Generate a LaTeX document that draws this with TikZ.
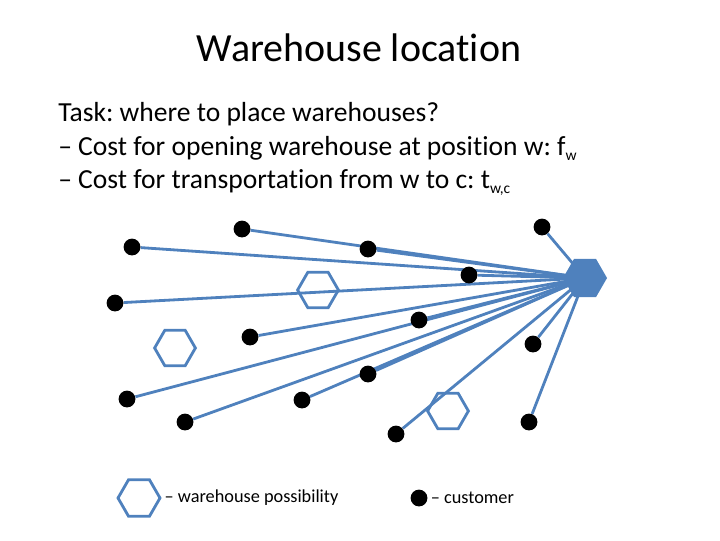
\documentclass[tikz,border=0pt]{standalone}
\usepackage{fontspec}
\setmainfont{Carlito}[Ligatures={TeX,NoCommon}]
\usetikzlibrary{positioning,shapes.geometric,backgrounds}
\definecolor{whblue}{HTML}{4F81BD}
\frenchspacing
\newcommand{\lowsub}[1]{\raisebox{-0.45ex}{\fontsize{11}{12}\selectfont #1}}

\begin{document}
\begin{tikzpicture}[
        x=0.025cm, y=-0.025cm,
        customer/.style={
                circle,
                fill=black,
                inner sep=0pt,
                minimum size=0.42cm
            },
        site/.style={
                regular polygon,
                regular polygon sides=6,
                draw=whblue,
                line width=2pt,
                inner sep=0pt,
                minimum size=1.02cm
            },
        chosen/.style={site, fill=whblue},
        link/.style={draw=whblue, line width=2pt},
        bodytext/.style={anchor=base west, inner sep=0pt, font=\fontsize{19.6}{23}\selectfont},
        legtext/.style={font=\fontsize{13}{15}\selectfont, inner sep=2pt}
    ]
    \useasboundingbox (0,0) rectangle (720,540);

    \node[anchor=base, font=\fontsize{28.4}{33}\selectfont] (title) at (359,61) {Warehouse location};
    \node[bodytext] (task) at (58,121) {Task: where to place warehouses?};
    \node[bodytext] (open) at (58,155) {-- Cost for opening warehouse at position w: f\lowsub{w}};
    \node[bodytext] (trans) at (58,188) {-- Cost for transportation from w to c: t\lowsub{w,c}};

    \node[chosen] (wh) at (585,278) {};
    \node[site] (s1) at (318,290) {};
    \node[site] (s2) at (175,348) {};
    \node[site] (s3) at (448,411) {};

    \node[customer] (c1) at (242,229) {};
    \node[customer] (c2) at (132,247) {};
    \node[customer] (c3) at (368,249) {};
    \node[customer] (c4) at (542,227) {};
    \node[customer] (c5) at (469,275) {};
    \node[customer] (c6) at (115,303) {};
    \node[customer] (c7) at (419,320) {};
    \node[customer] (c8) at (250,337) {};
    \node[customer] (c9) at (533,344) {};
    \node[customer] (c10) at (127,399) {};
    \node[customer] (c11) at (368,374) {};
    \node[customer] (c12) at (302,400) {};
    \node[customer] (c13) at (185,422) {};
    \node[customer] (c14) at (396,434) {};
    \node[customer] (c15) at (529,422) {};

    \begin{scope}[on background layer]
        \path[link] (wh.center) edge (c1) edge (c2) edge (c3) edge (c4) edge (c5)
            edge (c6) edge (c7) edge (c8) edge (c9) edge (c10)
            edge (c11) edge (c12) edge (c13) edge (c14) edge (c15);
    \end{scope}

    % legend
    \node[site, minimum size=1.05cm] (wleg) at (139,498) {};
    \node[legtext, right=0pt of wleg] (wlegtext) {-- warehouse possibility};
    \node[customer] (cleg) at (419,498) {};
    \node[legtext, right=0pt of cleg] (clegtext) {-- customer};
\end{tikzpicture}
\end{document}
